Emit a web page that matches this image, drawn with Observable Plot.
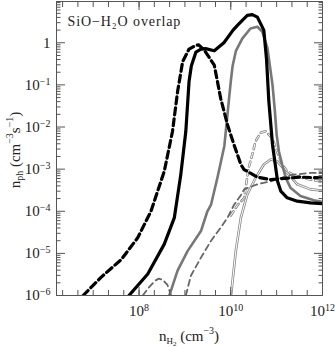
<!DOCTYPE html>
<html><head><meta charset="utf-8">
<script src="https://cdn.jsdelivr.net/npm/d3@7"></script>
<script src="https://cdn.jsdelivr.net/npm/@observablehq/plot@0.6"></script>
<style>
body{margin:0;background:#fff;}
#chart svg{display:block;}
</style></head><body><div id="chart"></div>
<script>
// log10 of n_H2 (cm^-3) and log10 of n_ph (cm^-3 s^-1)
const blackSolidLogN = [7.78,8.19,8.55,8.77,8.91,9.02,9.09,9.14,9.24,9.35,9.45,9.64,9.85,10.05,10.15,10.36,10.47,10.58,10.72,10.78,10.83,10.91,10.98,11.02,11.09,11.23,11.45,11.74,12.0];
const blackSolidLogP = [-6,-5.49,-4.78,-4.15,-3.13,-2.10,-0.92,-0.55,-0.22,-0.15,-0.14,-0.19,0.0,0.30,0.42,0.65,0.67,0.61,0.30,-0.40,-1.39,-2.42,-2.97,-3.29,-3.52,-3.68,-3.76,-3.80,-3.82];

const blackDashLogN = [6.78,7.17,7.61,7.97,8.26,8.55,8.73,8.84,8.95,9.09,9.24,9.30,9.42,9.64,9.78,9.93,10.07,10.22,10.29,10.58,10.87,11.16,11.52,12.0];
const blackDashLogP = [-6,-5.57,-5.15,-4.63,-4.0,-3.05,-2.10,-1.16,-0.45,-0.15,-0.06,-0.05,-0.17,-0.53,-1.32,-1.95,-2.42,-2.89,-3.01,-3.19,-3.25,-3.22,-3.19,-3.21];

const graySolidLogN = [8.66,8.84,9.06,9.35,9.49,9.57,9.71,9.86,9.96,10.0,10.04,10.11,10.25,10.43,10.58,10.69,10.80,10.91,10.96,11.0,11.05,11.12,11.2,11.30,11.52,11.81,12.0];
const graySolidLogP = [-6,-5.41,-4.94,-4.47,-4.0,-3.84,-3.2,-2.45,-1.35,-0.92,-0.55,-0.2,0.10,0.34,0.38,0.26,-0.13,-1.0,-1.6,-2.18,-2.58,-2.89,-3.21,-3.44,-3.64,-3.74,-3.78];

const grayHumpLogN = [8.08,8.22,8.35,8.43,8.52,8.62,8.70];
const grayHumpLogP = [-6,-5.8,-5.65,-5.6,-5.63,-5.75,-6];

const grayDashLogN = [9.02,9.13,9.35,9.57,9.78,9.93,10.07,10.22,10.29,10.58,10.87,11.30,11.74,12.0];
const grayDashLogP = [-6,-5.53,-5.10,-4.70,-4.39,-4.15,-3.85,-3.62,-3.48,-3.36,-3.29,-3.14,-3.09,-3.09];

const openDashLogN = [10.0,10.15,10.29,10.39,10.47,10.54,10.65,10.76,10.9,11.01,11.12,11.23,11.37,11.6,12.0];
const openDashLogP = [-4.1,-3.85,-3.69,-2.97,-2.65,-2.34,-2.14,-2.10,-2.26,-2.58,-2.89,-3.05,-3.14,-3.22,-3.3];

const thinSolidLogN = [10.0,10.11,10.22,10.36,10.54,10.72,10.87,11.01,11.2,11.45,11.74,12.0];
const thinSolidLogP = [-6.05,-4.94,-4.15,-3.60,-3.21,-2.89,-2.77,-2.81,-3.05,-3.36,-3.48,-3.51];

// axis ticks (log10 values)
const yMajorLog = [-6,-5,-4,-3,-2,-1,0];
const yTickLabels = ["10^-6","10^-5","10^-4","10^-3","10^-2","10^-1","1"];
const xMajorLog = [8,10,12];
const xTickLabels = ["10^8","10^10","10^12"];
const xMinorStepsPerDecade = 3;

const toRows = (ln, lp) => ln.map((v, i) => ({n: 10 ** v, p: 10 ** lp[i]}));

const yMinor = [];
for (let e = -6; e <= 0; e++) for (let m = 2; m <= 9; m++) yMinor.push(m * 10 ** e);
const xMinor = [];
for (let k = 19; k <= 36; k++) xMinor.push(10 ** (k / xMinorStepsPerDecade));
const yMajor = yMajorLog.map(e => 10 ** e);
const xMajor = xMajorLog.map(e => 10 ** e);

const axisColor = "#555";
const font = "'Liberation Serif', 'DejaVu Serif', serif";

const yLabelMap = new Map(yMajor.map((v, i) => [v, yTickLabels[i]]));
const xLabelMap = new Map(xMajor.map((v, i) => [v, xTickLabels[i]]));

const curve = "linear";
const chart = Plot.plot({
  width: 335,
  height: 347,
  marginLeft: 56,
  marginRight: 13,
  marginTop: 1,
  marginBottom: 52,
  style: {fontFamily: font, fontSize: "15px", color: "#222", background: "#fff"},
  x: {type: "log", domain: [10 ** 6.2, 1e12]},
  y: {type: "log", domain: [1e-6, 10 ** 0.98]},
  marks: [
    Plot.line(toRows(thinSolidLogN, thinSolidLogP), {x: "n", y: "p", stroke: "#888", strokeWidth: 2.6, curve, clip: true}),
    Plot.line(toRows(thinSolidLogN, thinSolidLogP), {x: "n", y: "p", stroke: "#fff", strokeWidth: 1, curve, clip: true}),
    Plot.line(toRows(openDashLogN, openDashLogP), {x: "n", y: "p", stroke: "#888", strokeWidth: 2.6, strokeDasharray: "5,4", curve, clip: true}),
    Plot.line(toRows(openDashLogN, openDashLogP), {x: "n", y: "p", stroke: "#fff", strokeWidth: 1, strokeDasharray: "5,4", curve, clip: true}),
    Plot.line(toRows(grayDashLogN, grayDashLogP), {x: "n", y: "p", stroke: "#666", strokeWidth: 1.8, strokeDasharray: "6,4", curve, clip: true}),
    Plot.line(toRows(grayHumpLogN, grayHumpLogP), {x: "n", y: "p", stroke: "#666", strokeWidth: 1.8, strokeDasharray: "6,4", curve, clip: true}),
    Plot.line(toRows(graySolidLogN, graySolidLogP), {x: "n", y: "p", stroke: "#777", strokeWidth: 2.6, curve, clip: true}),
    Plot.line(toRows(blackDashLogN, blackDashLogP), {x: "n", y: "p", stroke: "#000", strokeWidth: 3.2, strokeDasharray: "7,4", curve, clip: true}),
    Plot.line(toRows(blackSolidLogN, blackSolidLogP), {x: "n", y: "p", stroke: "#000", strokeWidth: 3.2, curve, clip: true}),
    Plot.frame({stroke: axisColor}),
    // inward ticks on all four sides
    Plot.axisY(yMajor, {anchor: "left", label: null, tickSize: -9, tickPadding: 15, stroke: axisColor, tickFormat: d => yLabelMap.get(d), fill: "#222", fontSize: 15}),
    Plot.axisY(yMinor, {anchor: "left", label: null, tickSize: -4.5, stroke: axisColor, tickFormat: () => ""}),
    Plot.axisY(yMajor, {anchor: "right", label: null, tickSize: -9, stroke: axisColor, tickFormat: () => ""}),
    Plot.axisY(yMinor, {anchor: "right", label: null, tickSize: -4.5, stroke: axisColor, tickFormat: () => ""}),
    Plot.axisX(xMajor, {anchor: "bottom", label: null, tickSize: -8, tickPadding: 18, stroke: axisColor, tickFormat: d => xLabelMap.get(d), fill: "#222", fontSize: 15}),
    Plot.axisX(xMinor, {anchor: "bottom", label: null, tickSize: -5, stroke: axisColor, tickFormat: () => ""}),
    Plot.axisX(xMajor, {anchor: "top", label: null, tickSize: -8, stroke: axisColor, tickFormat: () => ""}),
    Plot.axisX(xMinor, {anchor: "top", label: null, tickSize: -5, stroke: axisColor, tickFormat: () => ""}),
    Plot.text(["SiO\u2212H\u2082O overlap"], {frameAnchor: "top-left", dx: 11, dy: 15, textAnchor: "start", fontSize: 14, fill: "#222", text: d => d, lineAnchor: "top", letterSpacing: "0.9px"})
  ]
});

// superscripts in tick labels
d3.select(chart).selectAll("text").each(function() {
  const t = this.textContent;
  const m = /^10\^(.+)$/.exec(t);
  if (!m) return;
  const sel = d3.select(this);
  sel.text(null);
  sel.append("tspan").text("10");
  sel.append("tspan").attr("dy", "-0.5em").attr("font-size", "10px").text(m[1].replace("-", "\u2212"));
});
d3.select(chart).selectAll("text").filter(function() { return /overlap/.test(this.textContent); })
  .style("letter-spacing", "0.9px");

// axis labels
const svg = d3.select(chart);
const xl = svg.append("text").attr("x", 189).attr("y", 341).attr("text-anchor", "middle")
  .attr("font-family", font).attr("font-size", 15).attr("fill", "#222");
xl.append("tspan").text("n");
xl.append("tspan").attr("font-size", 9).attr("dy", 3).text("H");
xl.append("tspan").attr("font-size", 7).attr("dy", 2).text("2");
xl.append("tspan").attr("dy", -5).text(" (cm");
xl.append("tspan").attr("font-size", 10).attr("dy", -7).text("\u22123");
xl.append("tspan").attr("dy", 7).text(")");

const yl = svg.append("text").attr("transform", "translate(20,150) rotate(-90)").attr("text-anchor", "middle")
  .attr("font-family", font).attr("font-size", 15).attr("fill", "#222");
yl.append("tspan").text("n");
yl.append("tspan").attr("font-size", 10).attr("dy", 3).text("ph");
yl.append("tspan").attr("dy", -3).text(" (cm");
yl.append("tspan").attr("font-size", 10).attr("dy", -7).text("\u22123");
yl.append("tspan").attr("font-size", 15).attr("dy", 7).text("s");
yl.append("tspan").attr("font-size", 10).attr("dy", -7).text("\u22121");
yl.append("tspan").attr("dy", 7).text(")");

document.getElementById("chart").append(chart);
</script></body></html>
